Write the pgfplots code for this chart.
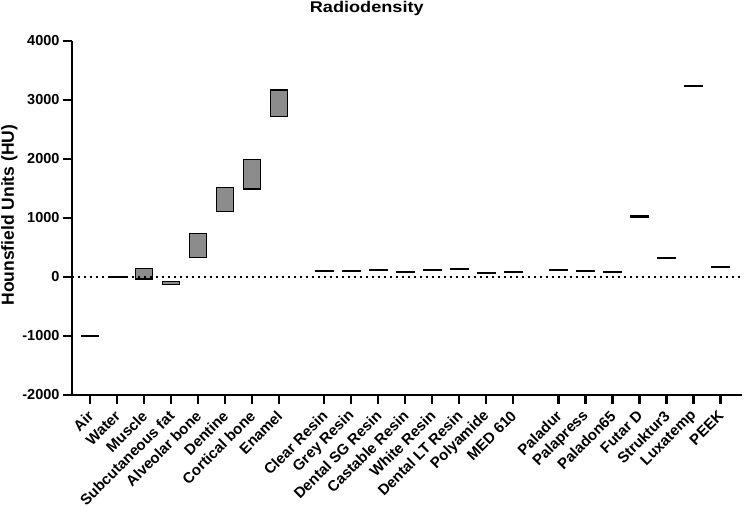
\documentclass[border=0pt]{standalone}
\usepackage{pgfplots}
\usepackage{pgfplotstable}
\pgfplotsset{compat=1.18}
\usepackage{fontspec}
\setmainfont{Liberation Sans}
\definecolor{barfill}{HTML}{8C8C8C}

\pgfplotstableread{
x      lo     span
0      -1008  16
1      -8     16
2      -35    185
3      -128   55
4      330    410
5      1110   410
6      1490   500
7      2720   450
8.68   100    16
9.68   94     16
10.68  107    16
11.68  83     16
12.68  110    16
13.68  122    16
14.68  60     16
15.68  71     16
17.36  116    16
18.36  88     16
19.36  83     16
20.36  1017   16
21.36  313    16
22.36  3225   16
23.36  168    16
}\radiodata

\begin{document}
\begin{tikzpicture}
\begin{axis}[
  at={(0,0)}, anchor=south west,
  scale only axis,
  width=670pt, height=354pt,
  xmin=-0.67, xmax=24.16,
  ymin=-2000, ymax=4000,
  ytick={-2000,-1000,0,1000,2000,3000,4000},
  xtick={0,1,2,3,4,5,6,7,8.68,9.68,10.68,11.68,12.68,13.68,14.68,15.68,17.36,18.36,19.36,20.36,21.36,22.36,23.36},
  xticklabels={Air,Water,Muscle,Subcutaneous fat,Alveolar bone,Dentine,Cortical bone,Enamel,Clear Resin,Grey Resin,Dental SG Resin,Castable Resin,White Resin,Dental LT Resin,Polyamide,MED 610,Paladur,Palapress,Paladon65,Futar D,Struktur3,Luxatemp,PEEK},
  axis lines*=left,
  axis line style={line width=2.2pt, -},
  tick style={line width=2.2pt, black},
  major tick length=9pt,
  tick align=outside,
  /pgf/number format/assume math mode=true,
  /pgf/number format/set thousands separator={},
  yticklabel style={font=\fontsize{14.5}{14.5}\selectfont\bfseries},
  xticklabel style={font=\fontsize{15}{15}\selectfont\bfseries, xshift=3pt, yshift=-7pt, rotate=45, anchor=east},
  ylabel={Hounsfield Units (HU)},
  ylabel style={font=\fontsize{17.5}{17.5}\selectfont\bfseries, at={(axis description cs:-0.0935,0.508)}, anchor=center},
  title={\scalebox{1.17}[1]{Radiodensity}},
  title style={font=\fontsize{15.5}{15.5}\selectfont\bfseries, at={(axis description cs:0.44,1)}, anchor=base, yshift=22.3pt},
  ybar stacked,
  stack negative=on previous,
  bar width=17.5pt,
  clip=false,
]
\draw[line width=1.8pt, dash pattern=on 1.8pt off 4.2pt] (axis cs:-0.67,0) -- (axis cs:24.16,0);
\addplot[draw=none, fill=none] table[x=x, y=lo] {\radiodata};
\addplot[draw=black, line width=1.2pt, fill=barfill] table[x=x, y=span] {\radiodata};
\end{axis}
\pgfresetboundingbox
\useasboundingbox (-72pt,-112pt) rectangle (672pt,395pt);
\end{tikzpicture}
\end{document}
